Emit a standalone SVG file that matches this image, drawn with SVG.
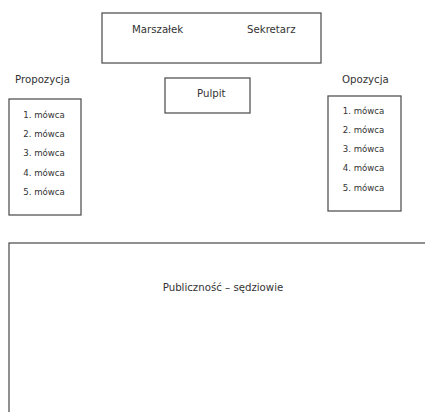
<svg xmlns="http://www.w3.org/2000/svg" width="425" height="412" viewBox="0 0 425 412">
<style>
.box{fill:#fff;stroke:#555;stroke-width:1.3}
.t{font-family:"DejaVu Sans",Verdana,sans-serif;font-size:10.2px;fill:#333}
.s{font-family:"DejaVu Sans",Verdana,sans-serif;font-size:8.6px;fill:#333;text-anchor:middle}
</style>
<rect width="425" height="412" fill="#fff"/>
<g id="prezydium">
<rect class="box" x="102" y="13" width="219" height="50"/>
<text class="t" x="132" y="33">Marszałek</text>
<text class="t" x="247" y="33">Sekretarz</text>
</g>
<g id="pulpit">
<rect class="box" x="165" y="78" width="85" height="35"/>
<text class="t" x="197" y="97">Pulpit</text>
</g>
<g id="propozycja">
<text class="t" x="15" y="83">Propozycja</text>
<rect class="box" x="9" y="99" width="72" height="116"/>
<text class="s" x="44" y="118">1. mówca</text>
<text class="s" x="44" y="137">2. mówca</text>
<text class="s" x="44" y="156">3. mówca</text>
<text class="s" x="44" y="176">4. mówca</text>
<text class="s" x="44" y="195">5. mówca</text>
</g>
<g id="opozycja">
<text class="t" x="342" y="83">Opozycja</text>
<rect class="box" x="328" y="96" width="73" height="115"/>
<text class="s" x="363.5" y="114">1. mówca</text>
<text class="s" x="363.5" y="133">2. mówca</text>
<text class="s" x="363.5" y="152">3. mówca</text>
<text class="s" x="363.5" y="171">4. mówca</text>
<text class="s" x="363.5" y="191">5. mówca</text>
</g>
<g id="publicznosc">
<rect class="box" x="9" y="243" width="430" height="200"/>
<text class="t" x="223" y="291" text-anchor="middle">Publiczność – sędziowie</text>
</g>
<g id="connectors"/>
</svg>
